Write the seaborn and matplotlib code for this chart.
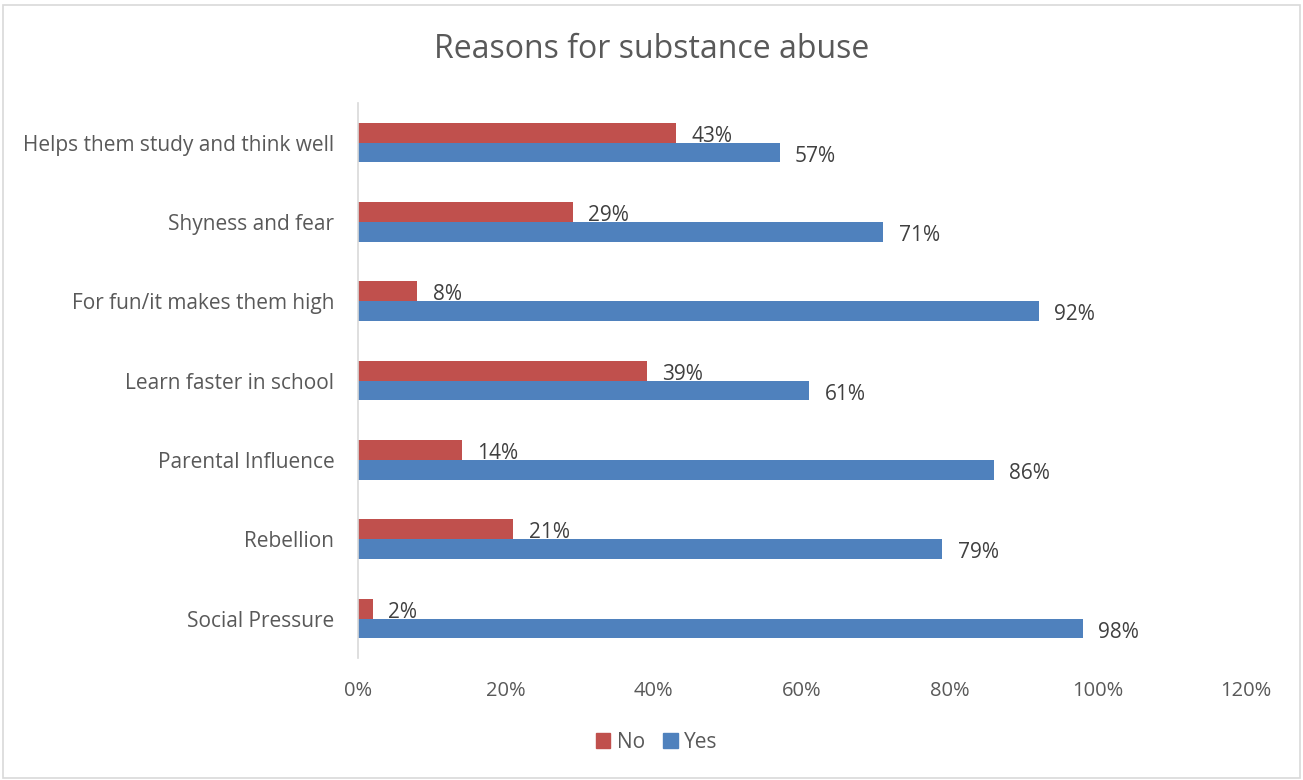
import matplotlib
matplotlib.use("Agg")
import matplotlib.pyplot as plt
import seaborn as sns
import pandas as pd
from matplotlib.patches import Rectangle

categories = ["Helps them study and think well", "Shyness and fear", "For fun/it makes them high",
              "Learn faster in school", "Parental Influence", "Rebellion", "Social Pressure"]
no_vals = [43, 29, 8, 39, 14, 21, 2]
yes_vals = [57, 71, 92, 61, 86, 79, 98]
series = ["No", "Yes"]
xticks = [0, 20, 40, 60, 80, 100, 120]

df = pd.DataFrame({
    "Reason": categories * 2,
    "Response": ["No"] * len(categories) + ["Yes"] * len(categories),
    "Value": no_vals + yes_vals,
})

sns.set_theme(style="white")
plt.rcParams["font.family"] = ["Open Sans", "DejaVu Sans"]
TXT = "#595959"

fig = plt.figure(figsize=(13.03, 7.80), dpi=100)
ax = fig.add_axes([0.2748, 0.156, 0.6812, 0.712])

palette = {"No": "#C0504D", "Yes": "#4F81BD"}
sns.barplot(data=df, y="Reason", x="Value", hue="Response", hue_order=series,
            order=categories, palette=palette, orient="h", width=0.5,
            ax=ax, legend=False, saturation=1, edgecolor="none")

for cont in ax.containers:
    anns = ax.bar_label(cont, labels=[f"{v:.0f}%" for v in cont.datavalues],
                        padding=11, fontsize=15, color="#404040")
    for a in anns:
        a.xyann = (11, -2.5)

ax.set_xlim(0, 120)
ax.set_ylim(6.5, -0.5)
ax.set_xticks(xticks)
ax.set_xticklabels([f"{t}%" for t in xticks], fontsize=14.5, color=TXT)
ax.tick_params(axis="y", labelsize=15, labelcolor=TXT, length=0, pad=17)
ax.tick_params(axis="x", length=0, pad=16)
ax.set_xlabel("")
ax.set_ylabel("")
for s in ["top", "right", "bottom"]:
    ax.spines[s].set_visible(False)
ax.spines["left"].set_color("#D9D9D9")
ax.spines["left"].set_linewidth(1.2)
ax.grid(False)

fig.text(0.5, 0.937, "Reasons for substance abuse", ha="center", va="center",
         fontsize=23, color=TXT)

handles = [Rectangle((0, 0), 1, 1, color=palette[s]) for s in series]
fig.legend(handles, series, loc="center", bbox_to_anchor=(0.504, 0.048), ncol=2,
           frameon=False, fontsize=15, handlelength=0.7, handleheight=0.7,
           handletextpad=0.3, columnspacing=0.9, labelcolor=TXT)

fig.patches.append(Rectangle((0.002, 0.002), 0.996, 0.992, transform=fig.transFigure,
                             fill=False, edgecolor="#D9D9D9", linewidth=1.2))

fig.savefig("out.png", dpi=100, facecolor="white")
